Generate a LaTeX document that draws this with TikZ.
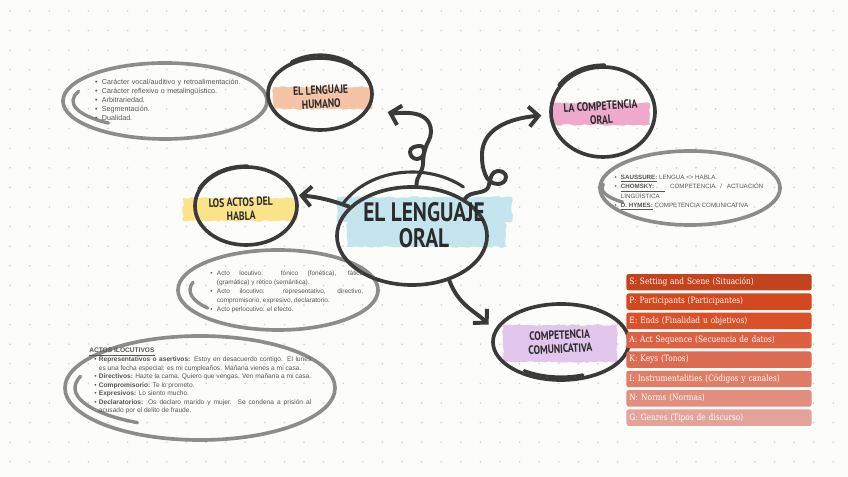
\documentclass[tikz,border=0pt]{standalone}
\usepackage{fontspec}
\usepackage{enumitem}
\usetikzlibrary{arrows.meta,shapes.geometric,decorations.pathmorphing}
\setmainfont{Liberation Sans}
\newfontfamily\handfont[FakeStretch=0.8]{PT Sans}
\newfontfamily\barfont[FakeStretch=0.85]{DejaVu Serif}
\setlist[itemize]{label=\textbullet, itemsep=0pt, topsep=0pt, parsep=0pt, partopsep=0pt, leftmargin=9pt, labelsep=3pt}
\definecolor{paper}{HTML}{FCFCFB}
\definecolor{dot}{HTML}{D0D0D0}
\definecolor{ink}{HTML}{3A3A3A}
\definecolor{ringgray}{HTML}{8C8C8C}
\definecolor{notetext}{HTML}{555555}
\definecolor{titletext}{HTML}{2B2B2B}
\definecolor{bandoral}{HTML}{C4E5EE}
\definecolor{bandhum}{HTML}{F5C3A6}
\definecolor{bandcomp}{HTML}{EFAACB}
\definecolor{bandactos}{HTML}{FBE38A}
\definecolor{bandcomu}{HTML}{E2C5EC}
\definecolor{barS}{HTML}{C2431E}
\definecolor{barP}{HTML}{D3481F}
\definecolor{barE}{HTML}{DA5129}
\definecolor{barA}{HTML}{DC6143}
\definecolor{barK}{HTML}{DD6B52}
\definecolor{barI}{HTML}{DF7D67}
\definecolor{barN}{HTML}{E18E7E}
\definecolor{barG}{HTML}{E4A398}

\begin{document}
\pgfmathsetseed{7}
\begin{tikzpicture}[x=0.025cm, y=0.025cm,
  bubble/.style={ellipse, draw=ink, line width=2.6pt, inner sep=0pt},
  ring/.style={ellipse, draw=ringgray, line width=2.6pt, inner sep=0pt},
  redo/.style={draw=ink, line width=2.2pt, line cap=round},
  tail/.style={draw=ringgray, line width=2.4pt, line cap=round},
  curl/.style={draw=ink, line width=2.8pt, line cap=round, line join=round,
               -{Straight Barb[length=2.4mm, width=5mm]}},
  bigtitle/.style={font=\handfont\bfseries\fontsize{19}{18.5}\selectfont,
                   text=titletext, align=center, inner sep=0pt},
  title/.style={font=\handfont\bfseries\fontsize{8.6}{9.8}\selectfont,
                text=titletext, align=center, inner sep=0pt},
  notes/.style={text=notetext, inner sep=0pt, anchor=north west},
  brush/.style={decorate, decoration={random steps, segment length=2.5pt, amplitude=0.6pt}},
  bar/.style={rectangle, rounded corners=1.5pt, minimum height=0.41cm, text width=4.475cm,
              inner xsep=0.075cm, inner ysep=0pt, align=left, text=white,
              font=\barfont\fontsize{6.2}{7}\selectfont},
]

\fill[paper] (0,0) rectangle (848,477);
\useasboundingbox (0,0) rectangle (848,477);
\foreach \i in {0,...,43} {
  \foreach \j in {0,...,24} {
    \fill[dot] (10+19.6*\i, 466-19.6*\j) circle[radius=0.9];
  }
}

\node[ring, minimum width=5.1cm, minimum height=1.9cm] (rasgosring) at (165,376) {};
\node[ring, minimum width=4.5cm, minimum height=1.85cm] (autoresring) at (690,289) {};
\node[ring, minimum width=5.0cm, minimum height=2.0cm] (locring) at (278,187) {};
\node[ring, minimum width=6.75cm, minimum height=2.6cm] (ilocring) at (200,89) {};
\draw[tail] (rasgosring.center) ++(160:92 and 28) arc[start angle=160, end angle=232, x radius=92, y radius=28];
\draw[tail] (autoresring.center) ++(170:88 and 22) arc[start angle=170, end angle=220, x radius=88, y radius=22];
\draw[tail] (locring.center) ++(165:88 and 30) arc[start angle=165, end angle=217, x radius=88, y radius=30];
\draw[tail] (ilocring.center) ++(163:125 and 40) arc[start angle=163, end angle=240, x radius=125, y radius=40];

\fill[bandoral, brush] (337,280) rectangle (512,255);
\fill[bandoral, brush] (347,259) rectangle (506,230);
\fill[bandhum, brush] (273,390) rectangle (372,368);
\fill[bandcomp, brush] (553,374) rectangle (650,352);
\fill[bandactos, brush] (183,279) rectangle (297,256);
\fill[bandcomu, brush] (503,152) rectangle (617,115);

\node[bubble, minimum width=3.75cm, minimum height=2.45cm] (oral) at (412,241) {};
\node[bubble, minimum width=2.6cm, minimum height=1.8cm] (humano) at (320,383) {};
\node[bubble, minimum width=2.6cm, minimum height=2.25cm] (compora) at (603,365) {};
\node[bubble, minimum width=2.55cm, minimum height=1.95cm] (actos) at (246,271) {};
\node[bubble, minimum width=3.4cm, minimum height=1.9cm] (comunic) at (561,135) {};
\draw[redo] (oral.center) ++(150:80 and 64) arc[start angle=150, end angle=50, x radius=80, y radius=64];
\draw[redo] (humano.center) ++(125:50 and 39) arc[start angle=125, end angle=50, x radius=50, y radius=39];
\draw[redo] (compora.center) ++(145:54 and 47) arc[start angle=145, end angle=88, x radius=54, y radius=47];
\draw[redo] (actos.center) ++(155:52 and 40) arc[start angle=155, end angle=88, x radius=52, y radius=40];
\draw[redo] (comunic.center) ++(235:64 and 35) arc[start angle=235, end angle=290, x radius=64, y radius=35];

\node[bigtitle] (oraltext) at (424,252) {EL LENGUAJE\\ORAL};
\node[title, rotate=3] (humanotext) at (321,380) {EL LENGUAJE\\HUMANO};
\node[title, rotate=4] (comporatext) at (601,364) {LA COMPETENCIA\\ORAL};
\node[title, rotate=2] (actostext) at (241,268) {LOS ACTOS DEL\\HABLA};
\node[title, rotate=3] (comunictext) at (560,135) {COMPETENCIA\\COMUNICATIVA};

\draw[curl, shorten >=0.45cm] (oral.85) to[out=90,in=-90] (423,314) to[out=90,in=0] (420,331)
  to[out=180,in=90] (410,325) to[out=-90,in=180] (417,318) to[out=0,in=-100] (425,327)
  to[out=80,in=-90] (431,345) to[out=90,in=-15] (humano.-15);
\draw[curl, shorten >=0.2cm] (oral.35) to[out=60,in=-100] (489,292) to[out=80,in=180] (498,306)
  to[out=0,in=90] (506,300) to[out=-90,in=0] (498,293) to[out=180,in=-70] (485,303)
  to[out=110,in=-90] (482,322) to[out=90,in=185] (compora.183);
\draw[curl, shorten >=0.05cm] (oral.155) to[out=160,in=-5] (actos.12);
\draw[curl, shorten >=0.2cm] (oral.-50) to[out=-70,in=135] (comunic.170);

\node[notes, text width=4.0cm, align=left, font=\fontsize{5.1}{6.4}\selectfont] (rasgos) at (89,402) {
  \begin{itemize}
    \item Carácter vocal/auditivo y retroalimentación.
    \item Carácter reflexivo o metalingüístico.
    \item Arbitrariedad.
    \item Segmentación.
    \item Dualidad.
  \end{itemize}};
\node[notes, text width=3.875cm, align=justify, font=\fontsize{4.4}{6.6}\selectfont] (autores) at (608,307) {
  \begin{itemize}
    \item \underline{\textbf{SAUSSURE:}} LENGUA <> HABLA.
    \item \underline{\textbf{CHOMSKY:}\hspace{8pt}} COMPETENCIA / ACTUACIÓN\linebreak LINGÜÍSTICA
    \item \underline{\textbf{D. HYMES:}} COMPETENCIA COMUNICATIVA
  \end{itemize}};
\node[notes, text width=3.975cm, align=justify, font=\fontsize{4.6}{6.4}\selectfont] (locutivos) at (204,211) {
  \begin{itemize}
    \item Acto locutivo: fónico (fonética), fático\linebreak (gramática) y rético (semántica).
    \item Acto ilocutivo: representativo, directivo,\linebreak compromisorio, expresivo, declaratorio.
    \item Acto perlocutivo: el efecto.
  \end{itemize}};
\node[notes, text width=5.55cm, align=justify, font=\fontsize{4.7}{6.1}\selectfont] (ilocutivos) at (89,129) {
  \underline{\textbf{ACTOS ILOCUTIVOS}}
  \begin{itemize}[leftmargin=6.8pt, labelsep=1.5pt]
    \item \textbf{Representativos o asertivos:} Estoy en desacuerdo contigo. El lunes\linebreak es una fecha especial: es mi cumpleaños. Mañana vienes a mi casa.
    \item \textbf{Directivos:} Hazte la cama. Quiero que vengas. Ven mañana a mi casa.
    \item \textbf{Compromisorio:} Te lo prometo.
    \item \textbf{Expresivos:} Lo siento mucho.
    \item \textbf{Declaratorios:} Os declaro marido y mujer. Se condena a prisión al\linebreak acusado por el delito de fraude.
  \end{itemize}};

\node[bar, fill=barS] (spS) at (719,194.75) {S: Setting and Scene (Situación)};
\node[bar, fill=barP] (spP) at (719,175.4) {P: Participants (Participantes)};
\node[bar, fill=barE] (spE) at (719,156.05) {E: Ends (Finalidad u objetivos)};
\node[bar, fill=barA] (spA) at (719,136.7) {A: Act Sequence (Secuencia de datos)};
\node[bar, fill=barK] (spK) at (719,117.35) {K: Keys (Tonos)};
\node[bar, fill=barI] (spI) at (719,98) {I: Instrumentalities (Códigos y canales)};
\node[bar, fill=barN] (spN) at (719,78.65) {N: Norms (Normas)};
\node[bar, fill=barG] (spG) at (719,59.3) {G: Genres (Tipos de discurso)};

\end{tikzpicture}
\end{document}
